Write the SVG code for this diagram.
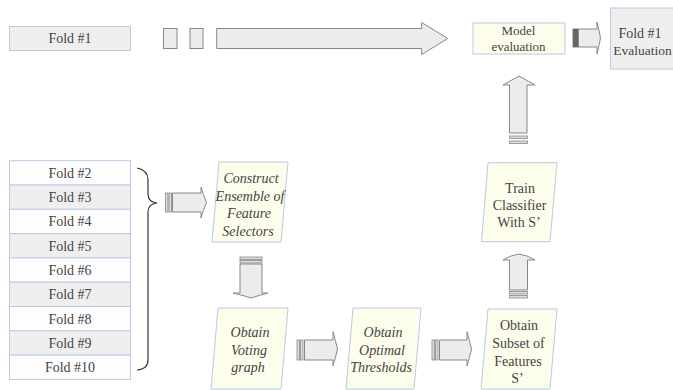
<svg xmlns="http://www.w3.org/2000/svg" width="673" height="390" viewBox="0 0 673 390" font-family="'Liberation Serif','DejaVu Serif','Noto Serif',serif">
<style>
text{font-family:"Liberation Serif","DejaVu Serif","Noto Serif","Times New Roman",serif;fill:#444;text-anchor:middle}
.t14{font-size:14px}
.t13{font-size:13px}
.it{font-style:italic}
.grey{fill:#efefef;stroke:#b8cce4;stroke-width:1}
.white{fill:#fdfdfd;stroke:#b8cce4;stroke-width:1}
.para{fill:#fdfdec;stroke:#b8cce4;stroke-width:1}
.arr{fill:#ececec;stroke:#888;stroke-width:1}
.stripe{fill:#dcdcdc;stroke:#888;stroke-width:0.8}
.brace{fill:none;stroke:#333;stroke-width:1.2}
</style>
<rect width="673" height="390" fill="#fff"/>

<g id="fold1">
<rect class="grey" x="9.5" y="26.5" width="121" height="24"/>
<text class="t14" x="70" y="43">Fold #1</text>
</g>

<g id="fold-list">
<rect class="white" x="9.5" y="160.7" width="121" height="24.3"/>
<text class="t14" x="70" y="177.8">Fold #2</text>
<rect class="grey" x="9.5" y="185" width="121" height="24.3"/>
<text class="t14" x="70" y="202.1">Fold #3</text>
<rect class="white" x="9.5" y="209.3" width="121" height="24.3"/>
<text class="t14" x="70" y="226.4">Fold #4</text>
<rect class="grey" x="9.5" y="233.6" width="121" height="24.3"/>
<text class="t14" x="70" y="250.7">Fold #5</text>
<rect class="white" x="9.5" y="257.9" width="121" height="24.3"/>
<text class="t14" x="70" y="275">Fold #6</text>
<rect class="grey" x="9.5" y="282.2" width="121" height="24.3"/>
<text class="t14" x="70" y="299.3">Fold #7</text>
<rect class="white" x="9.5" y="306.5" width="121" height="24.3"/>
<text class="t14" x="70" y="323.6">Fold #8</text>
<rect class="grey" x="9.5" y="330.8" width="121" height="24.3"/>
<text class="t14" x="70" y="347.9">Fold #9</text>
<rect class="white" x="9.5" y="355.1" width="121" height="24.3"/>
<text class="t14" x="70" y="372.2">Fold #10</text>
</g>

<g id="model-eval">
<rect class="para" x="473" y="23" width="92" height="31"/>
<text class="t13" x="518.5" y="35">Model</text>
<text class="t13" x="518.5" y="51">evaluation</text>
</g>

<g id="fold1-eval">
<rect class="grey" x="610.5" y="8" width="70" height="61"/>
<text class="t14" x="640" y="38">Fold #1</text>
<text x="642.5" y="55" font-size="13.5">Evaluation</text>
</g>

<g id="construct">
<polygon class="para" points="219,162 288,162 281,242 212,242"/>
<text class="t14 it" x="251" y="183">Construct</text>
<text class="t14 it" x="250" y="200.5">Ensemble of</text>
<text class="t14 it" x="249" y="218">Feature</text>
<text class="t14 it" x="248" y="235.5">Selectors</text>
</g>

<g id="voting">
<polygon class="para" points="218,308 288,308 281,389 211,389"/>
<text class="t14 it" x="250" y="337">Obtain</text>
<text class="t14 it" x="249" y="355">Voting</text>
<text class="t14 it" x="248" y="372">graph</text>
</g>

<g id="thresholds">
<polygon class="para" points="353,308 421,308 414,389 346,389"/>
<text class="t14 it" x="383" y="337">Obtain</text>
<text class="t14 it" x="382" y="355">Optimal</text>
<text class="t14 it" x="381" y="372">Thresholds</text>
</g>

<g id="subset">
<polygon class="para" points="488,309 557,309 550,389 481,389"/>
<text class="t14" x="519" y="329.5">Obtain</text>
<text class="t14" x="518.5" y="348">Subset of</text>
<text class="t14" x="518" y="366">Features</text>
<text class="t14" x="517.5" y="383">S’</text>
</g>

<g id="train">
<polygon class="para" points="488,162.7 557,162.7 550,241.7 481.5,241.7"/>
<text class="t14" x="520" y="193">Train</text>
<text class="t14" x="519.5" y="210">Classifier</text>
<text class="t14" x="519" y="226.5">With S’</text>
</g>

<g id="connectors">
<rect class="arr" x="163.5" y="28.5" width="13.5" height="20"/>
<rect class="arr" x="190" y="28.5" width="13" height="20"/>
<path class="arr" d="M216.7,28.5 L421.7,28.5 L421.7,22.5 L447.7,38.5 L421.7,54.5 L421.7,48.5 L216.7,48.5 Z"/>

<path class="brace" d="M137,168 Q148,170 148,180 L148,194 Q148,202 157,203 Q148,204 148,212 L148,360 Q148,369 137,370"/>

<rect class="stripe" x="165.5" y="193" width="2.5" height="19"/>
<rect class="stripe" x="169" y="193" width="2.5" height="19"/>
<path class="arr" d="M172.5,193 L201,193 L201,187 Q203,194 206.5,202.5 Q203,211 201,218 L201,212 L172.5,212 Z"/>

<rect class="stripe" x="240" y="257" width="22" height="2.5"/>
<rect class="stripe" x="240" y="260.5" width="22" height="2.5"/>
<path class="arr" d="M240,264 L240,293 L233,293 Q242,295 251,298 Q260,295 268,293 L262,293 L262,264 Z"/>

<rect class="stripe" x="297" y="340" width="2.5" height="20"/>
<rect class="stripe" x="300.5" y="340" width="2.5" height="20"/>
<path class="arr" d="M304.5,340 L333,340 L333,331.7 Q335.5,341 337.5,349 Q335.5,358 333,366 L333,360 L304.5,360 Z"/>

<rect class="stripe" x="432" y="340" width="2.5" height="20"/>
<rect class="stripe" x="435.5" y="340" width="2.5" height="20"/>
<path class="arr" d="M439.5,340 L467,340 L467,331.7 Q469.5,341 471.5,349 Q469.5,358 467,366 L467,360 L439.5,360 Z"/>

<rect class="stripe" x="509.5" y="291.5" width="18" height="2.5"/>
<rect class="stripe" x="509.5" y="295.5" width="18" height="2.5"/>
<path class="arr" d="M509.5,290 L509.5,260 L503,260 Q511,255 519,254 Q527,255 535,260 L527.5,260 L527.5,290 Z"/>

<rect class="stripe" x="509.5" y="136" width="18" height="2.5"/>
<rect class="stripe" x="509.5" y="141" width="18" height="2.5"/>
<path class="arr" d="M509.5,133 L509.5,85 L503,85 L519,76 L535,85 L527,85 L527,133 Z"/>

<rect x="573" y="29" width="5.5" height="18" fill="#666" stroke="#666" stroke-width="0.8"/>
<path class="arr" d="M578.5,29 L597,29 L597,22 Q599,30 600.5,38 Q599,46 597,54 L597,47 L578.5,47 Z"/>
</g>
</svg>
